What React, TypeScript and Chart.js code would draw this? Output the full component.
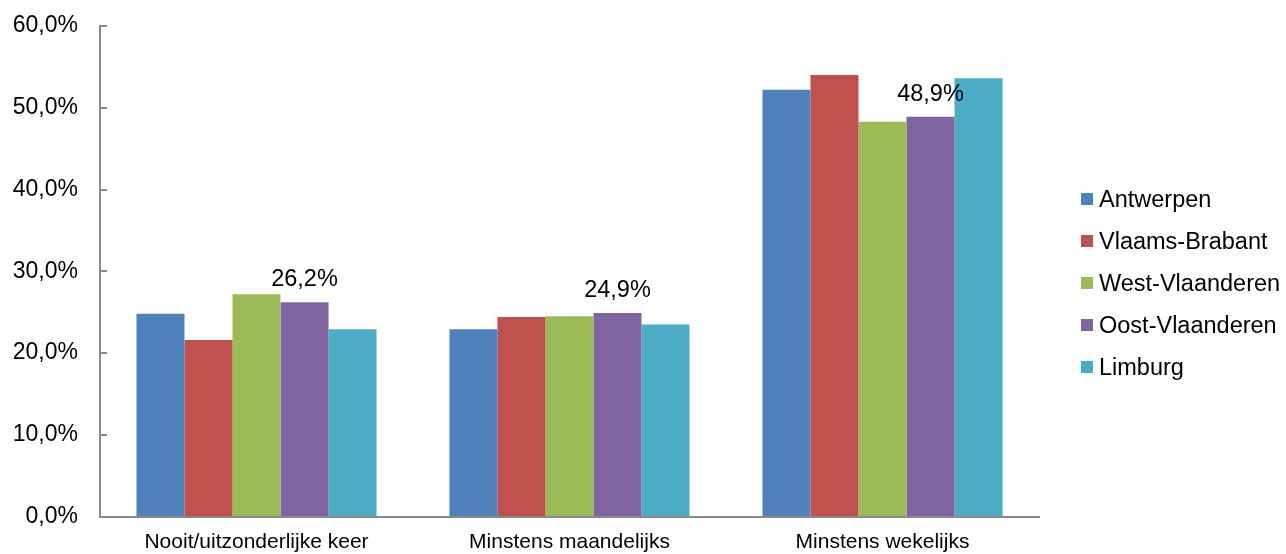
import React, { useEffect, useRef } from "react";
import { Chart, registerables } from "chart.js";

Chart.register(...registerables);

// ---- data ----
const categories = ["Nooit/uitzonderlijke keer", "Minstens maandelijks", "Minstens wekelijks"];
const seriesNames = ["Antwerpen", "Vlaams-Brabant", "West-Vlaanderen", "Oost-Vlaanderen", "Limburg"];
const antwerpen = [24.8, 22.9, 52.2];
const vlaamsBrabant = [21.6, 24.4, 54.0];
const westVlaanderen = [27.2, 24.5, 48.3];
const oostVlaanderen = [26.2, 24.9, 48.9];
const limburg = [22.9, 23.5, 53.6];
const seriesColors = ["#4F81BD", "#C0504D", "#9BBB59", "#8064A2", "#4BACC6"];
const yTickValues = [0, 10, 20, 30, 40, 50, 60];
const labelledSeriesIndex = 3;

const FONT = "'Liberation Sans', Arial, sans-serif";
const AXIS_COLOR = "#8a8a8a";

const fmt = (v: number) => v.toFixed(1).replace(".", ",") + "%";

const innerTicksPlugin = {
  id: "innerTicks",
  afterDraw(chart: any) {
    const y = chart.scales.y;
    const ctx = chart.ctx;
    ctx.save();
    ctx.strokeStyle = AXIS_COLOR;
    ctx.lineWidth = 2;
    y.ticks.forEach((t: any) => {
      const py = Math.round(y.getPixelForValue(t.value));
      ctx.beginPath();
      ctx.moveTo(chart.chartArea.left, py);
      ctx.lineTo(chart.chartArea.left + 7, py);
      ctx.stroke();
    });
    ctx.restore();
  },
};

const dataLabelPlugin = {
  id: "dataLabels",
  afterDatasetsDraw(chart: any) {
    const ctx = chart.ctx;
    const meta = chart.getDatasetMeta(labelledSeriesIndex);
    const ds = chart.data.datasets[labelledSeriesIndex];
    ctx.save();
    ctx.font = `23.5px ${FONT}`;
    ctx.fillStyle = "#000";
    ctx.textAlign = "center";
    ctx.textBaseline = "alphabetic";
    meta.data.forEach((bar: any, i: number) => {
      ctx.fillText(fmt(ds.data[i]), bar.x, bar.y - 16);
    });
    ctx.restore();
  },
};

const legendPlugin = {
  id: "customLegend",
  afterDraw(chart: any) {
    const ctx = chart.ctx;
    const boxX = 1081;
    const textX = 1099;
    const firstY = 198.5;
    const step = 42;
    ctx.save();
    ctx.font = `23.5px ${FONT}`;
    ctx.textAlign = "left";
    ctx.textBaseline = "alphabetic";
    chart.data.datasets.forEach((ds: any, i: number) => {
      const cy = firstY + i * step;
      ctx.fillStyle = ds.backgroundColor;
      ctx.fillRect(boxX, Math.round(cy - 6), 12, 12);
      ctx.fillStyle = "#000";
      ctx.fillText(ds.label, textX, cy + 8.2);
    });
    ctx.restore();
  },
};

export default function App() {
  const canvasRef = useRef<HTMLCanvasElement | null>(null);

  useEffect(() => {
    document.body.style.margin = "0";
    const canvas = canvasRef.current;
    if (!canvas) return;
    const seriesValues = [antwerpen, vlaamsBrabant, westVlaanderen, oostVlaanderen, limburg];
    const chart = new Chart(canvas, {
      type: "bar",
      data: {
        labels: categories,
        datasets: seriesNames.map((name, i) => ({
          label: name,
          data: seriesValues[i],
          backgroundColor: seriesColors[i],
          borderWidth: 0,
          categoryPercentage: 0.767,
          barPercentage: 1,
        })),
      },
      options: {
        responsive: false,
        animation: false,
        devicePixelRatio: 1,
        layout: { padding: { top: 26, right: 247, bottom: 0, left: 0 } },
        plugins: {
          legend: { display: false },
          tooltip: { enabled: false },
          title: { display: false },
        },
        scales: {
          x: {
            grid: { display: true, drawOnChartArea: false, drawTicks: false },
            border: { display: true, color: AXIS_COLOR, width: 2 },
            ticks: {
              color: "#000",
              font: { family: FONT, size: 21 },
              padding: 13,
              maxRotation: 0,
              autoSkip: false,
            },
            afterFit: (scale: any) => {
              scale.height = 37.5;
              scale.paddingLeft = 0;
              scale.paddingRight = 0;
            },
          },
          y: {
            min: 0,
            max: 60,
            grid: { display: true, drawOnChartArea: false, drawTicks: false },
            border: { display: true, color: AXIS_COLOR, width: 2 },
            ticks: {
              color: "#000",
              font: { family: FONT, size: 23 },
              padding: 22,
              callback: (v: any) => fmt(Number(v)),
            },
            afterBuildTicks: (scale: any) => {
              scale.ticks = yTickValues.map((v) => ({ value: v }));
            },
            afterFit: (scale: any) => {
              scale.width = 100;
              scale.paddingTop = 0;
              scale.paddingBottom = 0;
            },
          },
        },
      },
      plugins: [innerTicksPlugin, dataLabelPlugin, legendPlugin],
    });
    return () => chart.destroy();
  }, []);

  return (
    <div style={{ width: 1286, height: 554, background: "#fff" }}>
      <canvas ref={canvasRef} width={1286} height={554} style={{ display: "block" }} />
    </div>
  );
}
